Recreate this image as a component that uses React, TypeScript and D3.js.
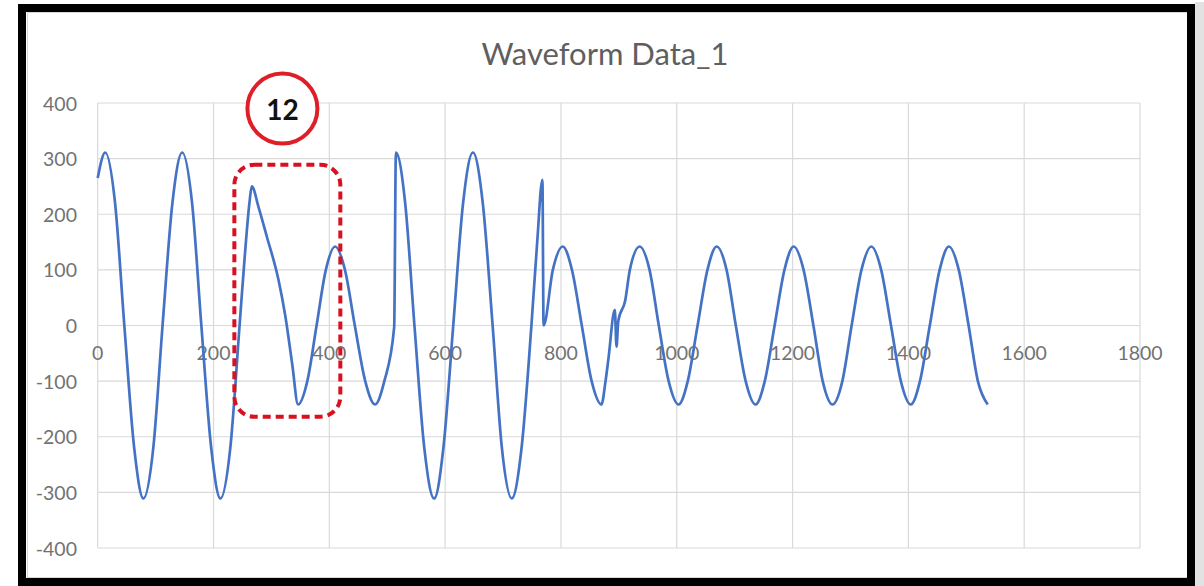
import { useEffect, useRef } from 'react';
import * as d3 from 'd3';

// sample index along the record
const sampleIdx = [
  0, 13, 30, 46, 63, 79, 96, 112, 129, 146, 163, 179, 196, 212, 229, 245, 254, 262, 266,
  278, 292, 312, 324, 336, 346, 362, 378, 394, 410, 427, 444, 462, 479, 495, 512,
  515, 531, 547, 564, 581, 597, 614, 631, 648, 665, 682, 698, 715, 732, 749, 759, 768,
  770, 786, 803, 819, 836, 853, 870, 877, 882, 893, 896, 899, 911, 919, 936,
  953, 969, 986, 1003, 1019, 1036, 1053, 1069, 1086, 1102, 1119, 1136, 1152, 1169,
  1186, 1202, 1219, 1236, 1252, 1269, 1286, 1302, 1319, 1336, 1353, 1370, 1387, 1404,
  1420, 1437, 1454, 1470, 1487, 1504, 1520, 1537,
];

// waveform value at each sample
const waveValue = [
  265, 311, 220, 0, -220, -311, -220, 0, 220, 311, 220, 0, -220, -311, -220, 0, 125, 220, 250,
  212, 160, 83, 17, -70, -142, -100, 0, 100, 142, 100, 0, -100, -142, -100, -3,
  311, 220, 0, -220, -311, -220, 0, 220, 311, 220, 0, -220, -311, -220, 0, 150, 262,
  0, 100, 142, 100, 0, -100, -142, -100, -60, 28, -38, 8, 45, 100, 142,
  100, 0, -100, -142, -100, 0, 100, 142, 100, 0, -100, -142, -100, 0,
  100, 142, 100, 0, -100, -142, -100, 0, 100, 142, 100, 0, -100, -142,
  -100, 0, 100, 142, 100, 0, -100, -142,
];

const xTicks = [0, 200, 400, 600, 800, 1000, 1200, 1400, 1600, 1800];
const yTicks = [-400, -300, -200, -100, 0, 100, 200, 300, 400];

// annotation: dashed box [x0, x1, y0, y1] and the numbered badge [x, y]
const boxExtent = [236, 419, 289, -164];
const badgeAt = [319, 390];
const badgeLabel = '12';

export default function App() {
  const svgRef = useRef<SVGSVGElement>(null);

  useEffect(() => {
    if (!svgRef.current) return;
    const svg = d3.select(svgRef.current);
    svg.selectAll('*').remove();

    const font = 'Lato, "Open Sans", sans-serif';

    const x = d3.scaleLinear().domain([0, 1800]).range([97.7, 1140]);
    const y = d3.scaleLinear().domain([-400, 400]).range([548, 103]);

    // frame
    svg.append('rect').attr('x', 1195).attr('y', 2).attr('width', 9).attr('height', 584).attr('fill', '#e2e2e2');
    svg.append('rect')
      .attr('x', 27.5).attr('y', 12.5).attr('width', 1160).attr('height', 565)
      .attr('fill', 'white').attr('stroke', '#d8d8d8');
    svg.append('rect')
      .attr('x', 22).attr('y', 8).attr('width', 1169).attr('height', 574)
      .attr('fill', 'none').attr('stroke', '#000').attr('stroke-width', 8);

    // grid
    const grid = svg.append('g');
    grid.selectAll('.hg').data(yTicks).enter().append('line')
      .attr('x1', x(0)).attr('x2', x(1800))
      .attr('y1', d => y(d)).attr('y2', d => y(d))
      .attr('stroke', '#d9d9d9').attr('stroke-width', 1.2);
    grid.selectAll('.vg').data(xTicks).enter().append('line')
      .attr('y1', y(400)).attr('y2', y(-400))
      .attr('x1', d => x(d)).attr('x2', d => x(d))
      .attr('stroke', '#d9d9d9').attr('stroke-width', 1.2);

    // tick labels
    svg.append('g').selectAll('text').data(yTicks).enter().append('text')
      .attr('x', 77).attr('y', d => y(d))
      .attr('text-anchor', 'end').attr('dominant-baseline', 'central')
      .attr('font-family', font).attr('font-size', 19.5).attr('fill', '#727272')
      .text(d => d);
    svg.append('g').selectAll('text').data(xTicks).enter().append('text')
      .attr('x', d => x(d)).attr('y', y(0) + 27)
      .attr('text-anchor', 'middle').attr('dominant-baseline', 'central')
      .attr('font-family', font).attr('font-size', 19.5).attr('fill', '#727272')
      .text(d => d);

    // title
    svg.append('text')
      .attr('x', 605).attr('y', 65)
      .attr('text-anchor', 'middle')
      .attr('font-family', font).attr('font-size', 31).attr('fill', '#5f5f5f')
      .text('Waveform Data_1');

    // waveform
    const line = d3.line<number>()
      .x((_, i) => x(sampleIdx[i]))
      .y(d => y(d))
      .curve(d3.curveMonotoneX);
    svg.append('path')
      .attr('d', line(waveValue) || '')
      .attr('fill', 'none')
      .attr('stroke', '#4472c4')
      .attr('stroke-width', 2.7)
      .attr('stroke-linejoin', 'round');

    // annotation
    const [bx0, bx1, by0, by1] = boxExtent;
    svg.append('rect')
      .attr('x', x(bx0)).attr('y', y(by0))
      .attr('width', x(bx1) - x(bx0)).attr('height', y(by1) - y(by0))
      .attr('rx', 20).attr('ry', 20)
      .attr('fill', 'none').attr('stroke', '#d8101f')
      .attr('stroke-width', 4).attr('stroke-dasharray', '8 5');

    svg.append('circle')
      .attr('cx', x(badgeAt[0])).attr('cy', y(badgeAt[1])).attr('r', 35)
      .attr('fill', 'white').attr('stroke', '#e01e28').attr('stroke-width', 4);
    svg.append('text')
      .attr('x', x(badgeAt[0])).attr('y', y(badgeAt[1]))
      .attr('text-anchor', 'middle').attr('dominant-baseline', 'central')
      .attr('font-family', font).attr('font-size', 28).attr('font-weight', 'bold')
      .attr('fill', '#111')
      .text(badgeLabel);
  }, []);

  return (
    <svg
      ref={svgRef}
      width={1204}
      height={586}
      style={{ position: 'absolute', left: 0, top: 0, background: 'white' }}
    />
  );
}
